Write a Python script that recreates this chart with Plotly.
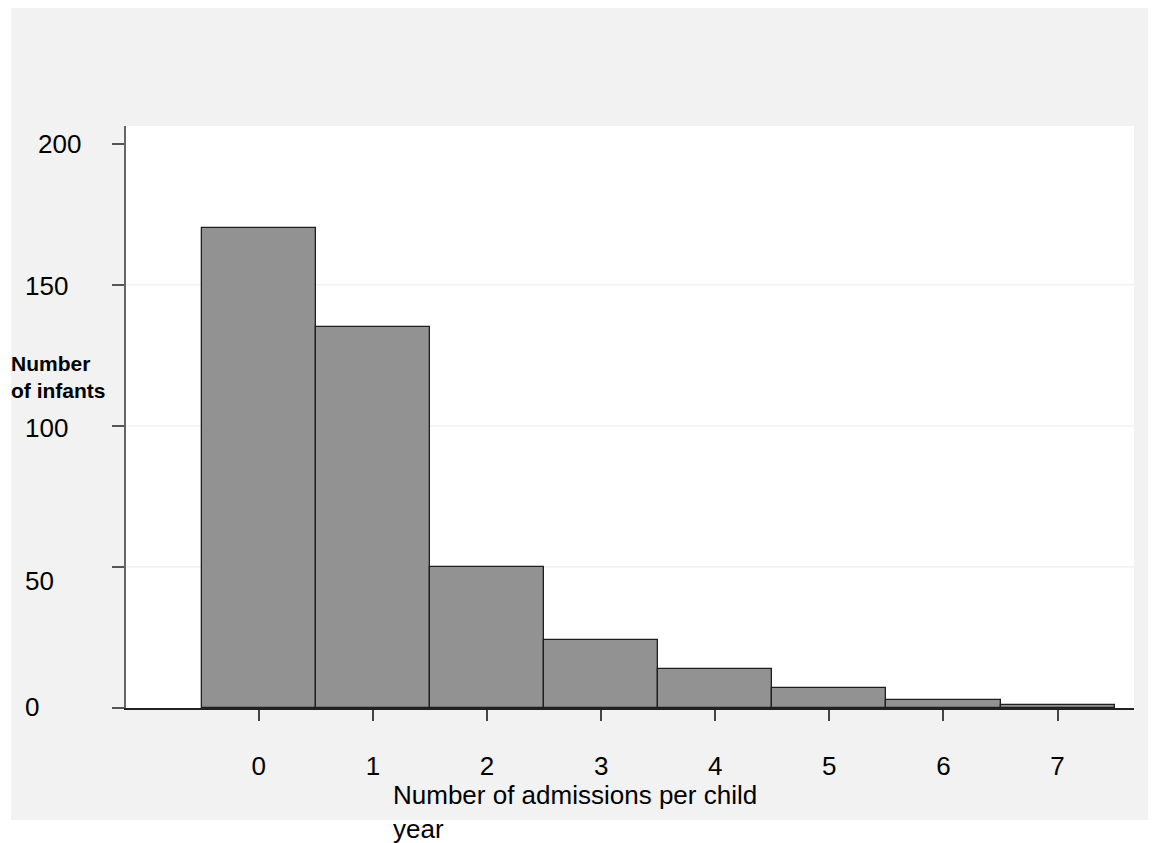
import plotly.graph_objects as go

# ---- data ----
admissions = [0, 1, 2, 3, 4, 5, 6, 7]
infants = [170, 135, 50, 24, 14, 7, 3, 1]
x_tick_vals = [0, 1, 2, 3, 4, 5, 6, 7]
x_tick_text = ["0", "1", "2", "3", "4", "5", "6", "7"]
y_tick_vals = [0, 50, 100, 150, 200]
y_tick_text = ["0", "50", "100", "150", "200"]
grid_vals = [50, 100, 150]
x_title = "Number of admissions per child<br>year"
y_title = "<b>Number<br>of infants</b>"

# ---- layout geometry (page pixels; the page body adds an 8px margin) ----
OFF = 8
W, H = 1156 - OFF, 843 - OFF
L, T = 126 - OFF, 126 - OFF
R = W - (1134 - OFF)
B = H - (708 - OFF)
PW, PH = W - L - R, H - T - B


def px_x(p):
    """page pixel x -> paper fraction"""
    return (p - OFF - L) / PW


def px_y(p):
    """page pixel y -> paper fraction"""
    return (H - B - (p - OFF)) / PH


FONT = "Arial, 'Liberation Sans', sans-serif"

fig = go.Figure()
fig.add_trace(go.Bar(
    x=admissions, y=infants, width=1,
    marker=dict(color="#929292", line=dict(color="#1e1e1e", width=1.3)),
    showlegend=False, hoverinfo="x+y",
))

shapes = [
    dict(type="rect", xref="paper", yref="paper", layer="below",
         x0=px_x(11), x1=px_x(1160), y0=px_y(820), y1=px_y(6),
         fillcolor="#f2f2f2", line=dict(width=0)),
    dict(type="rect", xref="paper", yref="paper", layer="below",
         x0=0, x1=1, y0=0, y1=1, fillcolor="white", line=dict(width=0)),
]
for g in grid_vals:
    shapes.append(dict(type="line", xref="paper", yref="y", layer="below",
                       x0=0, x1=1, y0=g, y1=g,
                       line=dict(color="#ebebeb", width=1)))

# y tick label placement (left edge in page px, downward shift px) as in the original
y_label_left = [24, 24, 24, 24, 37]
y_label_down = [-1, 14, 2, 1, 0]

annotations = []
for v, t, lx, dy in zip(y_tick_vals, y_tick_text, y_label_left, y_label_down):
    annotations.append(dict(
        text=t, xref="paper", yref="y", x=px_x(lx), y=v, yshift=-dy,
        xanchor="left", yanchor="middle", showarrow=False, borderpad=0,
        font=dict(family=FONT, size=26, color="black")))

annotations.append(dict(
    text=y_title, xref="paper", yref="paper", x=px_x(10), y=px_y(377),
    xanchor="left", yanchor="middle", align="left", showarrow=False,
    borderpad=0, font=dict(family=FONT, size=21, color="black")))

annotations.append(dict(
    text=x_title, xref="paper", yref="paper", x=px_x(392), y=px_y(779),
    xanchor="left", yanchor="top", align="left", showarrow=False,
    borderpad=0, font=dict(family=FONT, size=26, color="black")))

fig.update_layout(
    width=W, height=H,
    margin=dict(l=L, r=R, t=T, b=B, pad=0),
    paper_bgcolor="white", plot_bgcolor="white",
    bargap=0,
    shapes=shapes, annotations=annotations,
    font=dict(family=FONT, size=26, color="black"),
    xaxis=dict(
        range=[-1.164, 7.67], tickvals=x_tick_vals, ticktext=x_tick_text,
        ticks="outside", ticklen=11, tickwidth=1.5, tickcolor="#444444",
        showline=True, linecolor="#222222", linewidth=1.5,
        showgrid=False, zeroline=False, ticklabelstandoff=23,
        tickfont=dict(family=FONT, size=26, color="black"),
    ),
    yaxis=dict(
        range=[0, 206.3], tickvals=y_tick_vals, showticklabels=False,
        ticks="outside", ticklen=12, tickwidth=1.5, tickcolor="#555555",
        showline=True, linecolor="#666666", linewidth=1.5,
        showgrid=False, zeroline=False,
    ),
)

fig.write_html("out.html")
